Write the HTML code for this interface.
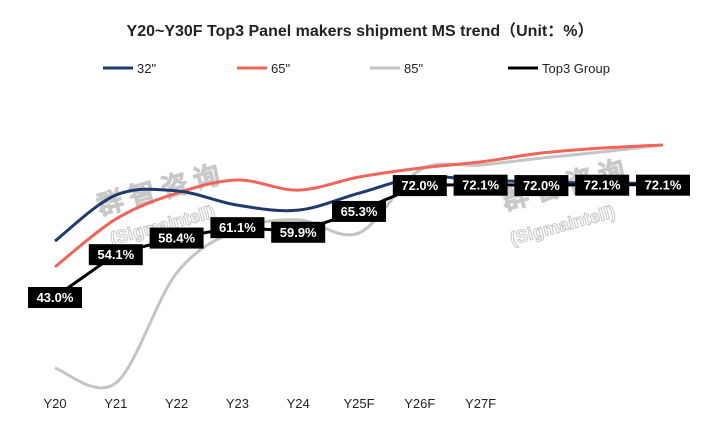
<!DOCTYPE html>
<html><head><meta charset="utf-8"><style>
body{margin:0;background:#fff;width:719px;height:437px;overflow:hidden;font-family:"Liberation Sans","Noto Sans CJK SC",sans-serif}
</style></head><body>
<svg id="c" width="719" height="437" xmlns="http://www.w3.org/2000/svg">
<text x="360" y="36" text-anchor="middle" font-size="16" font-weight="bold" fill="#222" font-family="Liberation Sans, Noto Sans CJK SC, sans-serif">Y20~Y30F Top3 Panel makers shipment MS trend（Unit：%）</text>
<g font-size="13" fill="#222">
<g><line x1="103" y1="68" x2="133" y2="68" stroke="#1f3a6e" stroke-width="3"/><text x="137" y="73">32"</text></g>
<g><line x1="237" y1="68" x2="267" y2="68" stroke="#f0645a" stroke-width="3"/><text x="271" y="73">65"</text></g>
<g><line x1="370" y1="68" x2="400" y2="68" stroke="#c4c4c4" stroke-width="3"/><text x="404" y="73">85"</text></g>
<g><line x1="508" y1="68" x2="538" y2="68" stroke="#000" stroke-width="3"/><text x="542" y="73">Top3 Group</text></g>
</g>
<g id="wm" fill="none" stroke="#c8c8c8" stroke-width="1" font-weight="bold" font-family="WenQuanYi Zen Hei, sans-serif">
<text x="100" y="215" font-size="26" transform="rotate(-15 100 215)">群 智 咨 询</text>
<text x="112" y="245" font-size="18" transform="rotate(-15 112 245)">(Sigmaintell)</text>
<text x="505" y="210" font-size="26" transform="rotate(-15 505 210)">群 智 咨 询</text>
<text x="512" y="245" font-size="18" transform="rotate(-15 512 245)">(Sigmaintell)</text>
</g>
<g id="plot"></g>
</svg>
<script>
const categories=["Y20","Y21","Y22","Y23","Y24","Y25F","Y26F","Y27F","Y28F","Y29F","Y30F"];
const axisLabels=["Y20","Y21","Y22","Y23","Y24","Y25F","Y26F","Y27F"];
const s32=[57.5,69.4,70.5,66.8,65.5,69.9,74.1,73.3,72.8,72.5,72.5];
const s65=[50.8,63.2,69.9,73.3,70.7,74.1,76.4,78.0,80.3,81.6,82.4];
const s85=[24.6,20.7,49.2,60.4,63.0,59.6,75.9,77.2,79.0,80.6,82.4];
const top3=[43.0,54.1,58.4,61.1,59.9,65.3,72.0,72.1,72.0,72.1,72.1];
const NS="http://www.w3.org/2000/svg";
const plot=document.getElementById('plot');
function xs(i){return 55+i*60.8;}
function ys(v){return 463-3.86*v;}
function smooth(vals){
  const p=vals.map((v,i)=>[xs(i),ys(v)]);
  let d="M"+p[0][0]+","+p[0][1];
  for(let i=0;i<p.length-1;i++){
    const p0=p[Math.max(0,i-1)],p1=p[i],p2=p[i+1],p3=p[Math.min(p.length-1,i+2)];
    const c1=[p1[0]+(p2[0]-p0[0])/6,p1[1]+(p2[1]-p0[1])/6];
    const c2=[p2[0]-(p3[0]-p1[0])/6,p2[1]-(p3[1]-p1[1])/6];
    d+=" C"+c1[0]+","+c1[1]+" "+c2[0]+","+c2[1]+" "+p2[0]+","+p2[1];
  }
  return d;
}
function addPath(d,color,w,name){
  const el=document.createElementNS(NS,'path');
  el.setAttribute('d',d);el.setAttribute('fill','none');el.setAttribute('stroke',color);el.setAttribute('stroke-width',w);
  
  
  plot.appendChild(el);
}
addPath(smooth(s85),'#c4c4c4',3,'line-85');
addPath(smooth(s65),'#f0645a',3,'line-65');
addPath(smooth(s32),'#1f3a6e',3,'line-32');
addPath(top3.map((v,i)=>(i?"L":"M")+xs(i)+","+ys(v)).join(" "),'#000',3,'line-top3');
top3.forEach((v,i)=>{
  const g=document.createElementNS(NS,'g');
  
  
  const r=document.createElementNS(NS,'rect');
  r.setAttribute('x',xs(i)-27);r.setAttribute('y',ys(v)-10);r.setAttribute('width',54);r.setAttribute('height',21);r.setAttribute('fill','#000');
  const t=document.createElementNS(NS,'text');
  t.setAttribute('x',xs(i));t.setAttribute('y',ys(v)+5);t.setAttribute('text-anchor','middle');
  t.setAttribute('font-size','13');t.setAttribute('font-weight','bold');t.setAttribute('fill','#fff');
  t.textContent=v.toFixed(1)+"%";
  g.appendChild(r);g.appendChild(t);plot.appendChild(g);
});
axisLabels.forEach((c,i)=>{
  const t=document.createElementNS(NS,'text');
  t.setAttribute('x',xs(i));t.setAttribute('y',408);t.setAttribute('text-anchor','middle');
  t.setAttribute('font-size','13');t.setAttribute('fill','#222');
  
  
  t.textContent=c;plot.appendChild(t);
});
</script>
</body></html>
